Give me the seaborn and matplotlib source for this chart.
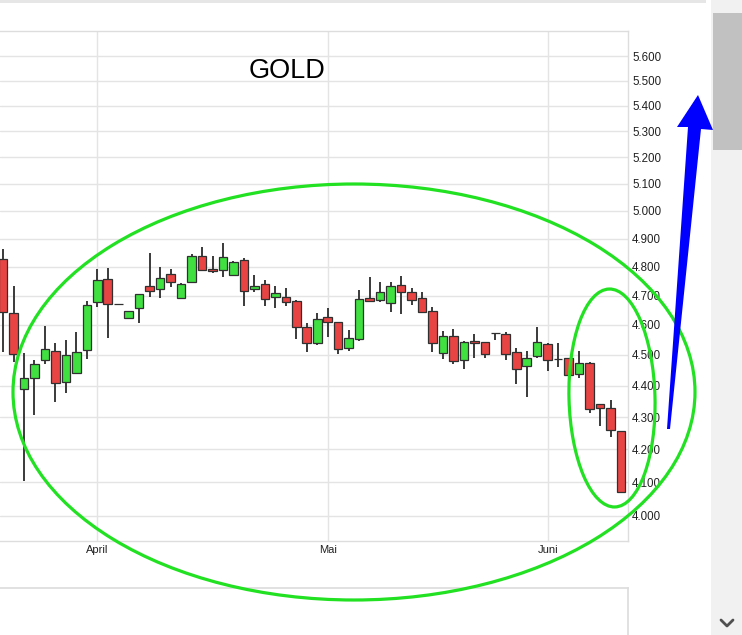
import matplotlib
matplotlib.use("Agg")
import matplotlib.pyplot as plt
from matplotlib.patches import Ellipse, Polygon, Rectangle
import numpy as np
import pandas as pd
import seaborn as sns

# daily candles, 19.03.2026 - 10.06.2026 (trading days)
dates = pd.bdate_range("2026-03-19", "2026-06-10")

opens = [4828, 4640, 4390, 4425, 4484, 4513, 4412, 4441, 4517, 4678,
         4757, 4671, 4623, 4657, 4734, 4724, 4775, 4691, 4747, 4838,
         4792, 4789, 4772, 4824, 4722, 4741, 4696, 4695, 4681, 4594,
         4541, 4626, 4609, 4523, 4553, 4691, 4686, 4674, 4736, 4711,
         4690, 4647, 4506, 4564, 4484, 4547, 4543, 4572, 4570, 4510,
         4463, 4496, 4537, 4485, 4489, 4438, 4473, 4341, 4328, 4255]
highs = [4863, 4733, 4507, 4484, 4596, 4540, 4550, 4576, 4681, 4792,
         4797, 4671, 4647, 4705, 4849, 4799, 4792, 4743, 4845, 4870,
         4838, 4884, 4820, 4831, 4771, 4755, 4734, 4727, 4685, 4607,
         4639, 4656, 4610, 4583, 4719, 4764, 4746, 4747, 4769, 4725,
         4713, 4662, 4580, 4586, 4547, 4570, 4544, 4572, 4577, 4522,
         4513, 4594, 4538, 4541, 4490, 4513, 4478, 4342, 4354, 4256]
lows = [4510, 4477, 4104, 4307, 4471, 4348, 4377, 4438, 4487, 4661,
        4556, 4671, 4620, 4606, 4695, 4693, 4730, 4689, 4745, 4787,
        4778, 4764, 4770, 4665, 4713, 4665, 4656, 4664, 4552, 4508,
        4533, 4561, 4502, 4513, 4545, 4680, 4677, 4645, 4636, 4668,
        4645, 4511, 4487, 4470, 4453, 4489, 4491, 4548, 4484, 4404,
        4363, 4489, 4446, 4462, 4434, 4424, 4312, 4272, 4239, 4068]
closes = [4644, 4503, 4423, 4471, 4520, 4409, 4500, 4510, 4668, 4754,
          4671, 4671, 4647, 4705, 4716, 4762, 4748, 4741, 4839, 4787,
          4785, 4835, 4818, 4716, 4734, 4688, 4708, 4679, 4592, 4538,
          4620, 4610, 4520, 4555, 4687, 4681, 4711, 4733, 4713, 4685,
          4645, 4539, 4564, 4480, 4542, 4539, 4502, 4572, 4503, 4453,
          4491, 4542, 4484, 4485, 4435, 4473, 4325, 4328, 4260, 4069]

y_ticks = list(range(4000, 5601, 100))
month_names = {4: "April", 5: "Mai", 6: "Juni"}

sns.set_theme(style="whitegrid")
plt.rcParams["font.family"] = ["Liberation Sans", "DejaVu Sans"]

df = pd.DataFrame({"date": dates, "open": opens, "high": highs,
                   "low": lows, "close": closes})
df["pos"] = np.arange(len(df))
up = df["close"] >= df["open"]
df["color"] = np.where(up, "#40e040", "#e84444")
df["bottom"] = df[["open", "close"]].min(axis=1)
df["height"] = (df["close"] - df["open"]).abs()

fig = plt.figure(figsize=(7.42, 6.35), dpi=100)
ax = fig.add_axes([0.0, 1 - 541 / 635, 628 / 742, 510 / 635])
ax.set_facecolor("white")

ax.vlines(df["pos"], df["low"], df["high"], color="#3a3a3a", lw=1.4, zorder=2)
ax.bar(df["pos"], df["height"], bottom=df["bottom"], width=0.82,
       color=df["color"], edgecolor="#303030", linewidth=0.9, zorder=3)

ax.set_yscale("log")
ax.set_ylim(3927, 5704)
ax.set_xlim(-0.29, 59.67)
ax.minorticks_off()
ax.set_yticks(y_ticks)
ax.set_yticklabels([f"{v / 1000:.3f}" for v in y_ticks])
ax.yaxis.tick_right()

first_of_month = df.groupby(df["date"].dt.month)["pos"].first()
mt = [first_of_month[m] for m in month_names]
ax.set_xticks(mt)
ax.set_xticklabels([month_names[m] for m in month_names])

ax.tick_params(axis="y", length=0, pad=3, labelsize=8.3, labelcolor="#222222")
ax.tick_params(axis="x", length=0, pad=3, labelsize=8, labelcolor="#222222")
ax.grid(True, color="#e4e4e4", lw=1)
ax.set_axisbelow(True)
for side in ["top", "right", "bottom"]:
    ax.spines[side].set_color("#dddddd")
    ax.spines[side].set_linewidth(1)
ax.spines["left"].set_visible(False)

fig.text(286.5 / 742, 1 - 71.5 / 635, "GOLD", ha="center", va="center",
         fontsize=19.5, color="black")

# lower panel (cut off)
ax2 = fig.add_axes([0.0, -0.01, 628 / 742, (635 - 588) / 635 + 0.01])
ax2.set_xticks([])
ax2.set_yticks([])
ax2.grid(False)
ax2.set_facecolor("white")
for side in ["top", "right"]:
    ax2.spines[side].set_color("#dddddd")
ax2.spines["left"].set_visible(False)
ax2.spines["bottom"].set_visible(False)

# overlay in pixel coords
ov = fig.add_axes([0, 0, 1, 1], zorder=10)
ov.set_xlim(0, 742)
ov.set_ylim(635, 0)
ov.axis("off")
ov.patch.set_alpha(0)

ov.add_patch(Rectangle((0, 0), 706, 2.5, color="#e6e6e6", lw=0))
ov.add_patch(Rectangle((711, 0), 31, 635, color="#f1f1f1", lw=0))
ov.add_patch(Rectangle((713, 13), 29, 137, color="#c1c1c1", lw=0))
ov.plot([721, 727, 733], [620, 626, 620], color="#505050", lw=2)

ov.add_patch(Ellipse((354, 392), 682, 416, fill=False, ec="#22e022", lw=2.3))
ov.add_patch(Ellipse((612, 398), 86, 218, angle=-1.5, fill=False,
                     ec="#22e022", lw=2.3))

arrow = [(667, 429), (688, 127), (677, 127), (698, 95), (713, 130),
         (701, 129), (670, 429)]
ov.add_patch(Polygon(arrow, closed=True, color="#0000ff", lw=0))

fig.savefig("out.png", dpi=100)
